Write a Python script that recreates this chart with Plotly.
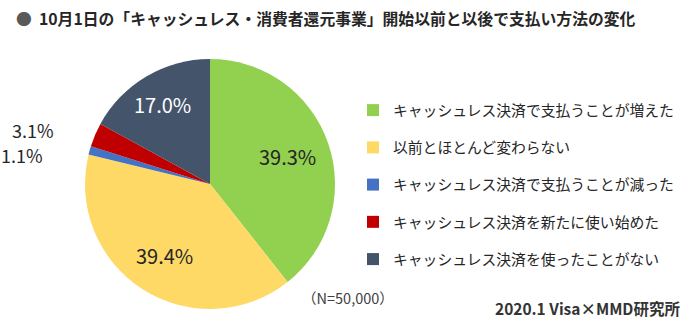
import math
import plotly.graph_objects as go

labels = ["キャッシュレス決済で支払うことが増えた", "以前とほとんど変わらない",
          "キャッシュレス決済で支払うことが減った", "キャッシュレス決済を新たに使い始めた",
          "キャッシュレス決済を使ったことがない"]
values = [39.3, 39.4, 1.1, 3.1, 17.0]
colors = ["#92D050", "#FFD966", "#4472C4", "#C00000", "#44546A"]
text_colors = ["#262626", "#262626", "#262626", "#262626", "#FFFFFF"]

W, H = 700, 324
FONT = "Noto Sans CJK JP"
cx, cy, r = 210, 184, 125

fig = go.Figure()
fig.add_trace(go.Pie(
    labels=labels, values=values, sort=False, direction="clockwise", rotation=0,
    marker=dict(colors=colors, line=dict(width=0)),
    textinfo="none", showlegend=False, hoverinfo="skip",
    domain=dict(x=[(cx - r) / W, (cx + r) / W], y=[1 - (cy + r) / H, 1 - (cy - r) / H]),
))
for lab, col in zip(labels, colors):
    fig.add_trace(go.Scatter(x=[None], y=[None], mode="markers", name=lab, legendgroup=lab,
                             marker=dict(symbol="square", size=10, color=col)))

# data labels placed at slice mid-angles (inside) or beside the pie (outside)
label_radius = [0.66, 0.68, None, None, 0.74]
outside_shift = {2: (-45, 5), 3: (-39, -5)}
annotations = []
total = sum(values)
cum = 0.0
for i, v in enumerate(values):
    mid = (cum + v / 2) / total * 2 * math.pi
    cum += v
    sx, sy = math.sin(mid), math.cos(mid)
    txt = f"{v:.1f}%"
    if label_radius[i] is not None:
        rr = label_radius[i] * r
        px, py = cx + sx * rr, cy - sy * rr
        annotations.append(dict(text=txt, x=px / W, y=1 - py / H, xref="paper", yref="paper",
                                xanchor="center", yanchor="middle", showarrow=False,
                                font=dict(family=FONT, size=20, color=text_colors[i])))
    else:
        px, py = cx + sx * r, cy - sy * r
        dx, dy = outside_shift[i]
        annotations.append(dict(text=txt, x=px / W, y=1 - py / H, xref="paper", yref="paper",
                                xanchor="right", yanchor="middle", showarrow=False,
                                xshift=dx, yshift=-dy,
                                font=dict(family=FONT, size=18, color=text_colors[i])))

annotations += [
    dict(text="<b><span style='color:#595959'>●</span>  10月1日の「キャッシュレス・消費者還元事業」開始以前と以後で支払い方法の変化</b>",
         x=14 / W, y=1 - 18 / H, xref="paper", yref="paper", xanchor="left", yanchor="middle",
         showarrow=False, font=dict(family=FONT, size=15.8, color="#262626")),
    dict(text="（N=50,000）", x=300 / W, y=1 - 297 / H, xref="paper", yref="paper",
         xanchor="left", yanchor="middle", showarrow=False,
         font=dict(family=FONT, size=14.5, color="#404040")),
    dict(text="<b>2020.1 Visa×MMD研究所</b>", x=682 / W, y=1 - 308 / H, xref="paper", yref="paper",
         xanchor="right", yanchor="middle", showarrow=False,
         font=dict(family=FONT, size=15.5, color="#333333")),
]

fig.update_layout(
    width=W, height=H, margin=dict(l=0, r=0, t=0, b=0),
    paper_bgcolor="white", plot_bgcolor="white",
    xaxis=dict(visible=False), yaxis=dict(visible=False),
    legend=dict(x=353 / W, y=1 - 94 / H, xanchor="left", yanchor="top",
                font=dict(family=FONT, size=14.8, color="#262626"),
                tracegroupgap=15, itemsizing="constant", bgcolor="rgba(0,0,0,0)"),
    annotations=annotations,
)
fig.write_html("out.html")
